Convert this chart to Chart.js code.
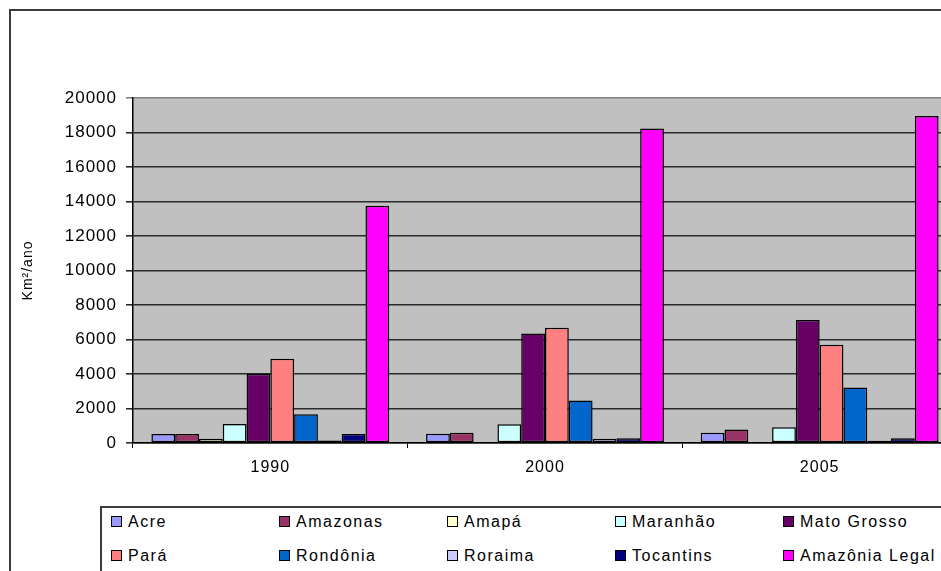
<!DOCTYPE html>
<html lang="pt-BR">
<head>
<meta charset="utf-8">
<title>Desmatamento na Amazônia Legal</title>
<script src="https://cdn.jsdelivr.net/npm/chart.js@4.4.1/dist/chart.umd.min.js"></script>
<style>
  html, body { margin: 0; padding: 0; background: #fff; overflow: hidden; }
  #frame {
    position: absolute; left: 9px; top: 9px; width: 1000px; height: 600px;
    border-left: 2px solid #3c3c3c; border-top: 2px solid #3c3c3c;
  }
  #chart { position: absolute; left: 0; top: 0; }
  #legend {
    position: absolute; left: 100px; top: 506px; width: 900px; height: 100px;
    border: 2px solid #3c3c3c; background: #fff;
  }
  .item {
    position: absolute; height: 20px; line-height: 20px; white-space: nowrap;
    font: 16px "Liberation Sans", Arial, sans-serif; letter-spacing: 1.5px; color: #000;
  }
  .item span.box {
    display: inline-block; width: 9px; height: 9px; border: 1px solid #000;
    vertical-align: middle; margin: -3px 6px 0 0;
  }
</style>
</head>
<body>
<div id="frame"></div>
<canvas id="chart" width="1000" height="571"></canvas>
<div id="legend"></div>
<script>
var years = ['1990', '2000', '2005'];

var acre = [520, 540, 590];
var amazonas = [520, 600, 780];
var amapa = [250, 0, 30];
var maranhao = [1100, 1080, 920];
var matoGrosso = [4020, 6350, 7130];
var para = [4890, 6680, 5700];
var rondonia = [1670, 2470, 3220];
var roraima = [150, 250, 130];
var tocantins = [520, 270, 280];
var amazoniaLegal = [13750, 18230, 18950];

var seriesNames = ['Acre', 'Amazonas', 'Amapá', 'Maranhão', 'Mato Grosso',
                   'Pará', 'Rondônia', 'Roraima', 'Tocantins', 'Amazônia Legal'];
var seriesValues = [acre, amazonas, amapa, maranhao, matoGrosso,
                    para, rondonia, roraima, tocantins, amazoniaLegal];
var seriesColors = ['#9999ff', '#993366', '#ffffcc', '#ccffff', '#660066',
                    '#ff8080', '#0066cc', '#ccccff', '#000080', '#ff00ff'];

var yTicks = { min: 0, max: 20000, step: 2000 };

// slightly spaced lettering on the canvas text
var spacing = {
    id: 'spacing',
    beforeLayout: function(chart) { chart.ctx.letterSpacing = '1px'; },
    beforeDraw: function(chart) { chart.ctx.letterSpacing = '1px'; }
};

// grey plot background
var plotBg = {
    id: 'plotBg',
    beforeDraw: function(chart) {
        var a = chart.chartArea, ctx = chart.ctx;
        ctx.save();
        ctx.fillStyle = '#c0c0c0';
        ctx.fillRect(a.left, a.top, a.right - a.left, a.bottom - a.top);
        ctx.restore();
    }
};

function buildDatasets() {
    return seriesNames.map(function(name, i) {
        return {
            label: name,
            data: seriesValues[i],
            backgroundColor: seriesColors[i],
            borderColor: '#000',
            borderWidth: 1.5,
            borderSkipped: false
        };
    });
}

var ctx = document.getElementById('chart').getContext('2d');
var chart = new Chart(ctx, {
    type: 'bar',
    data: { labels: years, datasets: buildDatasets() },
    plugins: [spacing, plotBg],
    options: {
        responsive: false,
        animation: false,
        devicePixelRatio: 1,
        categoryPercentage: 0.866,
        barPercentage: 1.0,
        layout: { padding: { left: 20, right: 43, top: 98, bottom: 88 } },
        plugins: {
            legend: { display: false },
            tooltip: { enabled: false }
        },
        scales: {
            x: {
                grid: {
                    offset: true,
                    drawOnChartArea: false,
                    drawTicks: true,
                    tickLength: 5,
                    color: '#000'
                },
                border: { color: '#000', width: 1.5 },
                ticks: {
                    color: '#000',
                    padding: 10,
                    font: { family: '"Liberation Sans", Arial, sans-serif', size: 16 }
                },
                afterFit: function(scale) { scale.height = 40; }
            },
            y: {
                min: yTicks.min,
                max: yTicks.max,
                grid: {
                    color: function(c) { return c.tick && c.tick.value === yTicks.max ? '#808080' : '#2a2a2a'; },
                    lineWidth: 1.6,
                    tickLength: 7
                },
                border: { color: '#000', width: 1.5 },
                ticks: {
                    stepSize: yTicks.step,
                    color: '#000',
                    padding: 9,
                    font: { family: '"Liberation Sans", Arial, sans-serif', size: 17 },
                    callback: function(v) { return String(v); }
                },
                title: {
                    display: true,
                    text: 'Km²/ano',
                    color: '#000',
                    padding: 0,
                    font: { family: '"Liberation Sans", Arial, sans-serif', size: 14 }
                },
                afterFit: function(scale) { scale.width = 113; }
            }
        }
    }
});

// legend laid out in five columns, two rows
function drawLegend() {
    var box = document.getElementById('legend');
    chart.data.datasets.forEach(function(ds, i) {
        var col = i % 5, row = Math.floor(i / 5);
        var el = document.createElement('div');
        el.className = 'item';
        el.style.left = (9 + col * 168) + 'px';
        el.style.top = (5 + row * 34) + 'px';
        var sw = document.createElement('span');
        sw.className = 'box';
        sw.style.background = ds.backgroundColor;
        el.appendChild(sw);
        el.appendChild(document.createTextNode(ds.label));
        box.appendChild(el);
    });
}

drawLegend();
</script>
</body>
</html>
